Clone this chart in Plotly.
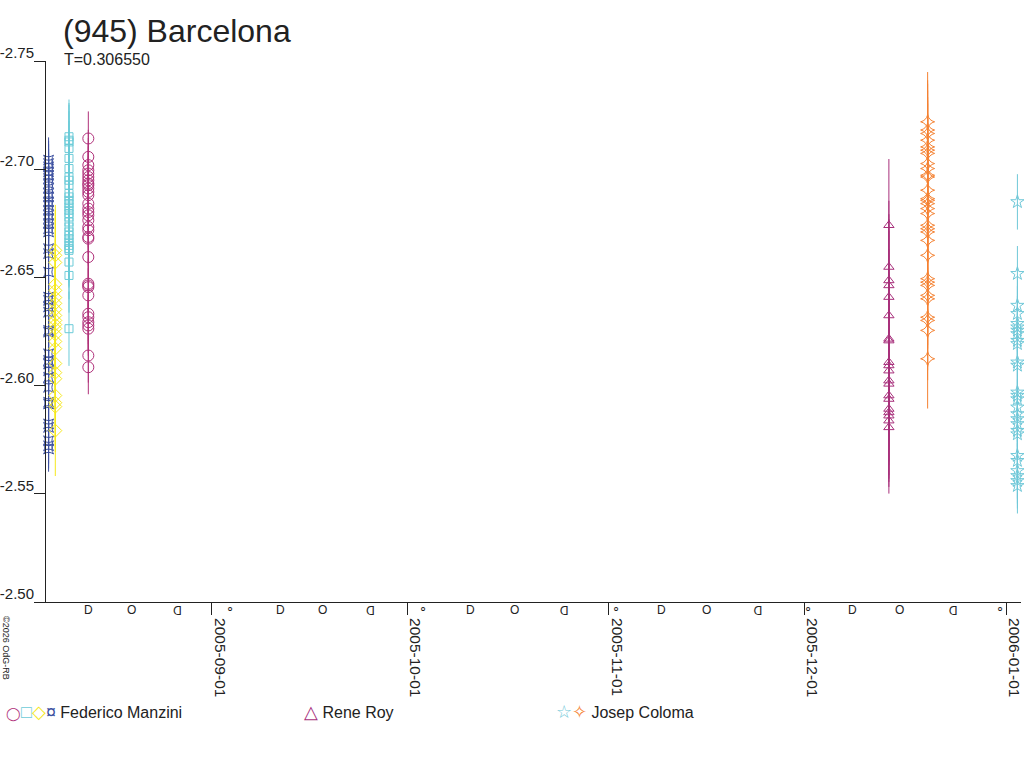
import plotly.graph_objects as go

# sessions: date of the night, magnitudes, error
blue_date = "2005-08-06 22:30"
blue_mag = [-2.7042, -2.7026, -2.7011, -2.6988, -2.6972, -2.6957, -2.6934, -2.6911,
            -2.6888, -2.6872, -2.6849, -2.6833, -2.6810, -2.6787, -2.6772, -2.6749,
            -2.6725, -2.6710, -2.6633, -2.6610, -2.6525, -2.6409, -2.6394, -2.6363,
            -2.6339, -2.6255, -2.6247, -2.6147, -2.6116, -2.6100, -2.6069, -2.6038,
            -2.5992, -2.5923, -2.5915, -2.5823, -2.5807, -2.5745, -2.5722, -2.5707]
blue_err = 0.0105

yellow_date = "2005-08-07 23:20"
yellow_mag = [-2.6625, -2.6602, -2.6569, -2.6468, -2.6440, -2.6407, -2.6380, -2.6352,
              -2.6324, -2.6301, -2.6282, -2.6264, -2.6236, -2.6204, -2.6171, -2.6102,
              -2.6060, -2.6032, -2.5954, -2.5921, -2.5903, -2.5792]
yellow_err = 0.021

cyan_date = "2005-08-10 01:45"
cyan_mag = [-2.7150, -2.7134, -2.7126, -2.7096, -2.7050, -2.7003, -2.6964, -2.6949,
            -2.6926, -2.6888, -2.6872, -2.6856, -2.6841, -2.6825, -2.6810, -2.6795,
            -2.6779, -2.6756, -2.6733, -2.6710, -2.6694, -2.6679, -2.6663, -2.6648,
            -2.6633, -2.6625, -2.6571, -2.6509, -2.6263]
cyan_err = 0.0172

magenta_date = "2005-08-13 01:00"
magenta_mag = [-2.7142, -2.7057, -2.7019, -2.6995, -2.6980, -2.6964, -2.6949, -2.6934,
               -2.6926, -2.6911, -2.6895, -2.6880, -2.6841, -2.6818, -2.6802, -2.6787,
               -2.6764, -2.6733, -2.6718, -2.6687, -2.6679, -2.6594, -2.6471, -2.6463,
               -2.6455, -2.6417, -2.6332, -2.6316, -2.6293, -2.6278, -2.6263, -2.6139,
               -2.6085]
magenta_err = 0.0125

roy_date = "2005-12-14 00:00"
roy_mag = [-2.6741, -2.6548, -2.6486, -2.6463, -2.6409, -2.6324, -2.6216, -2.6208,
           -2.6108, -2.6093, -2.6069, -2.6023, -2.6008, -2.5954, -2.5938, -2.5892,
           -2.5876, -2.5861, -2.5838, -2.5807]
roy_err = 0.0306

orange_date = "2005-12-19 22:50"
orange_mag = [-2.7219, -2.7181, -2.7165, -2.7134, -2.7103, -2.7088, -2.7073, -2.7026,
              -2.7003, -2.6972, -2.6964, -2.6903, -2.6864, -2.6856, -2.6841, -2.6818,
              -2.6795, -2.6741, -2.6725, -2.6710, -2.6671, -2.6602, -2.6494, -2.6478,
              -2.6463, -2.6417, -2.6401, -2.6316, -2.6301, -2.6255, -2.6124]
orange_err = 0.023

star_date = "2006-01-02 17:45"
star_mag = [-2.6849, -2.6517, -2.6370, -2.6332, -2.6286, -2.6270, -2.6255, -2.6239,
            -2.6208, -2.6193, -2.6108, -2.6093, -2.5969, -2.5954, -2.5938, -2.5900,
            -2.5869, -2.5846, -2.5823, -2.5792, -2.5776, -2.5676, -2.5653, -2.5606,
            -2.5583, -2.5560, -2.5537]
star_err = 0.0128

# moon phases
new_moon = ["2005-09-03 18:45", "2005-10-03 10:28", "2005-11-02 01:25",
            "2005-12-01 15:01", "2005-12-31 03:12"]
first_quarter = ["2005-08-13 02:38", "2005-09-11 11:37", "2005-10-10 19:01",
                 "2005-11-09 01:57", "2005-12-08 09:36"]
full_moon = ["2005-08-19 17:53", "2005-09-18 02:01", "2005-10-17 12:14",
             "2005-11-16 00:57", "2005-12-15 16:15"]
last_quarter = ["2005-08-26 15:18", "2005-09-25 06:41", "2005-10-25 01:17",
                "2005-11-23 22:11", "2005-12-23 19:36"]

y_ticks = [-2.75, -2.70, -2.65, -2.60, -2.55, -2.50]
y_labels = ["-2.75", "-2.70", "-2.65", "-2.60", "-2.55", "-2.50"]

sessions = [
    (blue_date, blue_mag, blue_err, "#3c50a0", "star-square-open", 9),
    (yellow_date, yellow_mag, yellow_err, "#f6e81c", "diamond-open", 10),
    (cyan_date, cyan_mag, cyan_err, "#6ccbd8", "square-open", 8),
    (magenta_date, magenta_mag, magenta_err, "#b0307a", "circle-open", 11),
    (roy_date, roy_mag, roy_err, "#a8307c", "triangle-up-open", 9),
    (orange_date, orange_mag, orange_err, "#f58232", "star-diamond-open", 10),
    (star_date, star_mag, star_err, "#70c8d8", "star-open", 10),
]

fig = go.Figure()
for date, mags, err, col, sym, sz in sessions:
    fig.add_trace(go.Scatter(
        x=[date] * len(mags), y=mags, mode="markers", cliponaxis=False,
        marker=dict(symbol=sym, size=sz, color=col, line=dict(width=1, color=col)),
        error_y=dict(type="constant", value=err, color=col, thickness=1, width=0),
        showlegend=False))

txt = "#222222"
ann = []
# moon symbols: D = first quarter, reversed D (D turned 180°) = last quarter
phases = [(new_moon, "∘", 0, 13, -5), (first_quarter, "D", 0, 12, -8),
          (full_moon, "O", 0, 12, -8), (last_quarter, "D", 180, 12, -8)]
for dates, sym, ang, sz, dy in phases:
    for d in dates:
        ann.append(dict(x=d, y=0, xref="x", yref="paper", text=sym, showarrow=False,
                        textangle=ang, yanchor="middle", yshift=dy,
                        font=dict(size=sz, color=txt)))

ann.append(dict(x=0, y=1, xref="paper", yref="paper", text="(945) Barcelona",
                showarrow=False, xanchor="left", yanchor="middle", xshift=15, yshift=30,
                font=dict(size=32, color=txt)))
ann.append(dict(x=0, y=1, xref="paper", yref="paper", text="T=0.306550",
                showarrow=False, xanchor="left", yanchor="middle", xshift=16, yshift=2,
                font=dict(size=16, color=txt)))
ann.append(dict(x=0, y=0, xref="paper", yref="paper", text="©2026 OdG-RB",
                showarrow=False, textangle=90, xanchor="center", yanchor="middle",
                xshift=-40, yshift=-46, font=dict(size=9, color=txt)))

big = "font-size:18px;color:"
legend = [
    (4, f"<span style='font-size:13px;color:#b0307a'>◯</span>"
        f"<span style='{big}#6ccbd8'>□</span>"
        f"<span style='{big}#f6e81c'>◇</span><span style='{big}#3c50a0'>¤</span>"
        " Federico Manzini"),
    (302, f"<span style='{big}#a8307c'>△</span> Rene Roy"),
    (554, f"<span style='{big}#70c8d8'>☆</span><span style='{big}#f58232'>✧</span>"
          " Josep Coloma"),
]
for px, t in legend:
    ann.append(dict(x=0, y=0, xref="paper", yref="paper", text=t, showarrow=False,
                    xanchor="left", yanchor="middle", xshift=px - 46, yshift=-110,
                    font=dict(size=16, color=txt)))

fig.update_layout(
    width=1024, height=768,
    margin=dict(l=46, r=3, t=61, b=166),
    paper_bgcolor="white", plot_bgcolor="white",
    font=dict(family="Liberation Sans, Arial, sans-serif", color=txt),
    annotations=ann,
    xaxis=dict(range=["2005-08-06 13:00", "2006-01-03 07:00"], type="date",
               tick0="2005-09-01", dtick="M1", tickformat="%Y-%m-%d", tickangle=90,
               ticks="outside", ticklen=12, tickcolor=txt, showline=True,
               linecolor=txt, showgrid=False, zeroline=False, automargin=False,
               tickfont=dict(size=15.5, color=txt), ticklabelshift=8,
               ticklabeloverflow="allow"),
    yaxis=dict(range=[-2.50, -2.75], tickvals=y_ticks, ticktext=y_labels,
               ticks="outside", ticklen=11, tickcolor=txt, showline=True,
               linecolor=txt, showgrid=False, zeroline=False, automargin=False,
               tickfont=dict(size=15, color=txt), ticklabelshift=8,
               ticklabelstandoff=-3),
)

# the page has a default 8px body margin; drop it so the figure sits at the corner
fig.write_html("out.html", config={"displayModeBar": False},
               post_script="document.body.style.margin='0px';")
